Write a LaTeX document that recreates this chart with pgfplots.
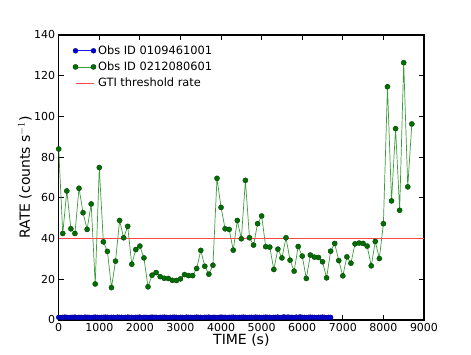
\documentclass[border=0pt]{standalone}
\usepackage{pgfplots}
\pgfplotsset{compat=1.18}
\usepackage{fontspec}
\setmainfont{DejaVu Sans}
\definecolor{gline}{RGB}{60,155,60}
\definecolor{gmark}{RGB}{0,110,0}
\definecolor{bline}{RGB}{20,20,255}
\definecolor{bmark}{RGB}{0,0,225}
\definecolor{rline}{RGB}{255,70,70}
\begin{document}
\begin{tikzpicture}
\path[use as bounding box] (-58.7pt,-35pt) rectangle (412.3pt,320pt);
\begin{axis}[
  at={(0,0)}, anchor=south west,
  scale only axis, width=365.3pt, height=285pt,
  xmin=0, xmax=9000, ymin=0, ymax=140,
  xtick={0,1000,...,9000}, ytick={0,20,...,140},
  scaled x ticks=false,
  xticklabel style={/pgf/number format/1000 sep={}},
  /pgf/number format/assume math mode=true,
  tick label style={font=\fontsize{11}{13}\selectfont},
  tick align=inside, major tick length=5pt,
  axis line style={line width=1.2pt},
  every tick/.style={black, line width=0.9pt},
  xlabel={TIME (s)}, ylabel={RATE (counts s$^{-1}$)},
  label style={font=\fontsize{14}{16}\selectfont},
  xlabel style={at={(axis description cs:0.5,0)}, anchor=north, inner sep=0pt, yshift=-14pt},
  ylabel style={at={(axis description cs:0,0.5)}, anchor=center, inner sep=0pt, yshift=33.7pt},
  legend image code/.code={\draw[#1] plot coordinates {(0pt,0pt) (18pt,0pt)};},
  legend cell align=left,
  legend style={draw=none, fill=none, at={(axis description cs:0,1)}, anchor=north west,
    xshift=11pt, yshift=-6.5pt, font=\fontsize{11.4}{13}\selectfont,
    row sep=2pt, nodes={inner sep=2pt}, /tikz/every even column/.append style={column sep=7pt}},
]
\addplot[color=bline, line width=0.7pt, mark=*, mark size=2.5pt,
  mark options={fill=bmark, draw=black!60!blue, line width=0.3pt}] table {
x y
0 1.3
50 1.2
100 1.3
150 1.4
200 1.3
250 1.2
300 1.3
350 1.3
400 1.4
450 1.2
500 1.3
550 1.3
600 1.2
650 1.4
700 1.3
750 1.3
800 1.2
850 1.3
900 1.4
950 1.3
1000 1.2
1050 1.3
1100 1.3
1150 1.4
1200 1.3
1250 1.2
1300 1.3
1350 1.3
1400 1.2
1450 1.4
1500 1.3
1550 1.3
1600 1.2
1650 1.3
1700 1.4
1750 1.3
1800 1.3
1850 1.2
1900 1.3
1950 1.3
2000 1.4
2050 1.2
2100 1.3
2150 1.3
2200 1.2
2250 1.3
2300 1.4
2350 1.3
2400 1.3
2450 1.2
2500 1.3
2550 1.3
2600 1.4
2650 1.3
2700 1.2
2750 1.3
2800 1.3
2850 1.4
2900 1.3
2950 1.2
3000 1.3
3050 1.3
3100 1.2
3150 1.4
3200 1.3
3250 1.3
3300 1.2
3350 1.3
3400 1.4
3450 1.3
3500 1.3
3550 1.2
3600 1.3
3650 1.3
3700 1.4
3750 1.2
3800 1.3
3850 1.3
3900 1.2
3950 1.3
4000 1.4
4050 1.3
4100 1.3
4150 1.2
4200 1.3
4250 1.3
4300 1.4
4350 1.3
4400 1.2
4450 1.3
4500 1.3
4550 1.4
4600 1.3
4650 1.2
4700 1.3
4750 1.3
4800 1.2
4850 1.4
4900 1.3
4950 1.3
5000 1.2
5050 1.3
5100 1.4
5150 1.3
5200 1.3
5250 1.2
5300 1.3
5350 1.3
5400 1.4
5450 1.2
5500 1.3
5550 1.5
5600 1.3
5650 1.4
5700 1.3
5750 1.3
5800 1.2
5850 1.4
5900 1.3
5950 1.5
6000 1.3
6050 1.3
6100 1.2
6150 1.3
6200 1.4
6250 1.3
6300 1.3
6350 1.2
6400 1.3
6450 1.3
6500 1.4
6550 1.3
6600 1.2
6650 1.3
6700 1.3
};
\addlegendentry{Obs ID 0109461001}
\addplot[color=gline, line width=0.7pt, mark=*, mark size=2.6pt,
  mark options={fill=gmark, draw=black!50!gmark, line width=0.3pt}] table {
x y
0 84
100 42.5
200 63.4
300 44.8
400 42.5
500 64.7
600 52.7
700 44.5
800 57
900 17.7
1000 74.9
1100 38.4
1200 33.7
1300 15.9
1400 28.9
1500 48.9
1600 40.4
1700 46
1800 27.4
1900 34.6
2000 36.3
2100 30.5
2200 16.3
2300 22
2400 23.3
2500 21.3
2600 20.5
2700 20.4
2800 19.5
2900 19.4
3000 20.2
3100 22.3
3200 21.8
3300 21.8
3400 25.3
3500 34.2
3600 26.4
3700 22.5
3800 26.9
3900 69.6
4000 55.3
4100 44.8
4200 44.5
4300 34.3
4400 48.9
4500 39.9
4600 68.6
4700 40.4
4800 36.8
4900 47.3
5000 51.1
5100 36
5200 35.8
5300 24.8
5400 34.8
5500 30.5
5600 40.4
5700 29.4
5800 24
5900 36.1
6000 31.4
6100 20.4
6200 31.9
6300 30.9
6400 30.7
6500 28.6
6600 20.7
6700 33.8
6800 37.6
6900 29.2
7000 21.7
7100 31
7200 27.9
7300 37.4
7400 37.8
7500 37.6
7600 36.3
7700 26.6
7800 38.6
7900 30.2
8000 47.3
8100 114.6
8200 58.5
8300 94
8400 53.9
8500 126.4
8600 65.4
8700 96.3
};
\addlegendentry{Obs ID 0212080601}
\addplot[color=rline, line width=0.8pt] coordinates {(0,40) (9000,40)};
\addlegendentry{GTI threshold rate}
\end{axis}
\end{tikzpicture}
\end{document}
